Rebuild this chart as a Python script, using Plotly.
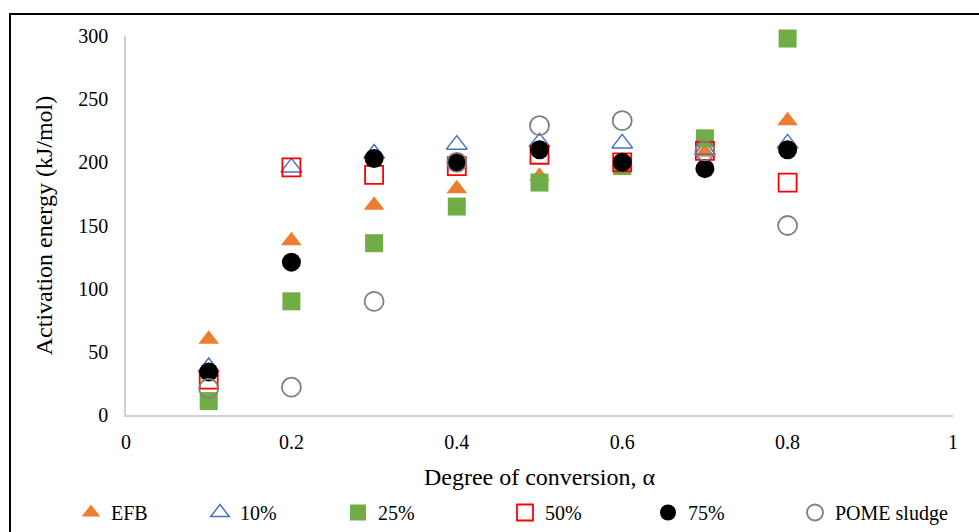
import plotly.graph_objects as go

alpha = [0.1, 0.2, 0.3, 0.4, 0.5, 0.6, 0.7, 0.8]
efb = [60, 138, 166, 179, 189, 200, 208, 233]
p10 = [38, 196, 207, 214, 216, 215, 210, 215]
p25 = [11, 90, 136, 165, 184, 197, 219, 298]
p50 = [28, 196, 190, 197, 206, 200, 209, 184]
p75 = [34, 121, 203, 200, 210, 200, 195, 210]
pome = [21, 22, 90, 200, 229, 233, 209, 150]

series = [
    ("EFB", efb, "triangle-up", "#ED7D31", None),
    ("10%", p10, "triangle-up-open", "#4472C4", 1.5),
    ("25%", p25, "square", "#70AD47", None),
    ("50%", p50, "square-open", "#FF0000", 1.8),
    ("75%", p75, "circle", "#000000", None),
    ("POME sludge", pome, "circle-open", "#7F7F7F", 1.8),
]
# legend box left edges, in pixels
legend_px = [71, 200, 338, 505, 648, 795]

W, H = 979, 532
L, R, T, B = 126, 26, 0, 117
plot_top_px = 36
gs_h = H - T - B  # 415
gs_w = W - L - R  # 827

fig = go.Figure()
legend_layouts = {}
for i, (name, vals, sym, col, lw) in enumerate(series):
    marker = dict(symbol=sym, color=col, size=19 if "circle" in sym else 18)
    if lw:
        marker["line"] = dict(color=col, width=lw)
    lname = "legend" if i == 0 else f"legend{i + 1}"
    fig.add_trace(go.Scatter(x=alpha, y=vals, mode="markers", name=name,
                             marker=marker, cliponaxis=False, legend=lname))
    legend_layouts[lname] = dict(
        orientation="h", x=(legend_px[i] - L) / gs_w, xanchor="left",
        y=(gs_h - H) / gs_h, yanchor="bottom",
        font=dict(size=20), itemwidth=30, borderwidth=0,
        bgcolor="rgba(0,0,0,0)")

font = "Liberation Serif, Times New Roman, serif"
fig.update_layout(
    width=W, height=H,
    margin=dict(l=L, r=R, t=T, b=B),
    paper_bgcolor="white", plot_bgcolor="white",
    font=dict(family=font, size=20, color="#000000"),
    showlegend=True,
    xaxis=dict(range=[0, 1], tickvals=[0, 0.2, 0.4, 0.6, 0.8, 1],
               ticktext=["0", "0.2", "0.4", "0.6", "0.8", "1"],
               showgrid=False, zeroline=False, showline=True, linecolor="#D0D0D0",
               linewidth=1.5, ticks="outside", ticklen=8, tickcolor="rgba(0,0,0,0)",
               automargin=False,
               title=dict(text="Degree of conversion, α", standoff=16)),
    yaxis=dict(range=[0, 300], tickvals=[0, 50, 100, 150, 200, 250, 300],
               domain=[0, 1 - plot_top_px / gs_h],
               showgrid=False, zeroline=False, showline=True, linecolor="#D0D0D0",
               linewidth=1.5, ticks="outside", ticklen=12, tickcolor="rgba(0,0,0,0)",
               automargin=False,
               title=dict(text="Activation energy (kJ/mol)", standoff=19)),
    shapes=[dict(type="rect", xref="paper", yref="paper",
                 x0=(10 - L) / gs_w, x1=1.2, y0=-0.6, y1=(gs_h - 14) / gs_h,
                 line=dict(color="black", width=2), fillcolor="rgba(0,0,0,0)",
                 layer="below")],
    **legend_layouts,
)
fig.write_html("out.html")
